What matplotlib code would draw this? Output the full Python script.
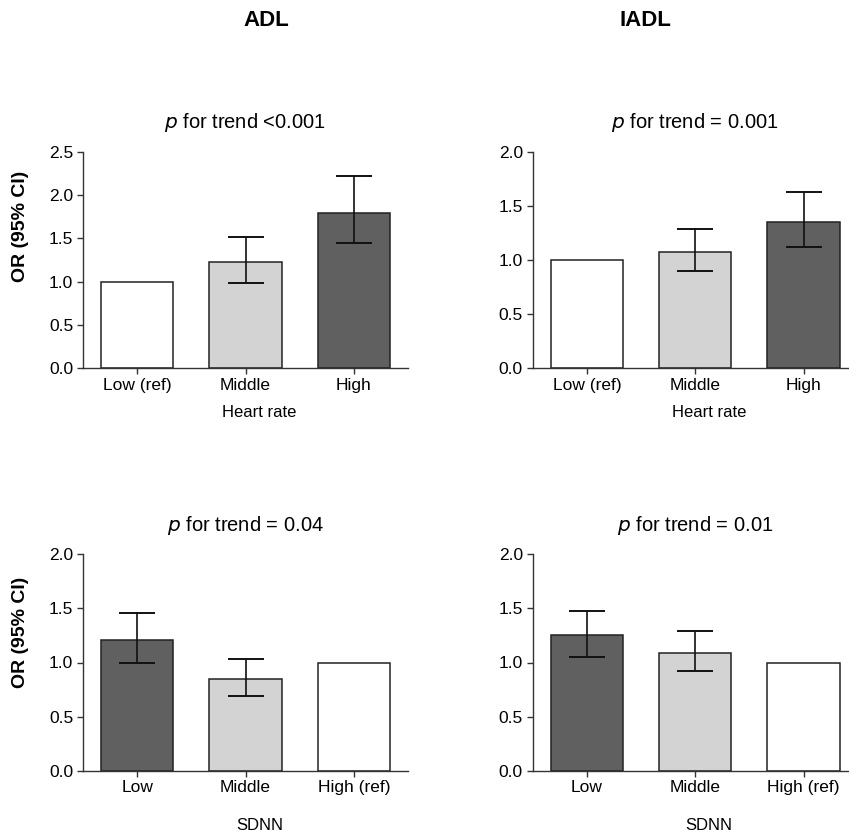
import numpy as np
import matplotlib
matplotlib.use('Agg')
import matplotlib.pyplot as plt

plt.rcParams['font.family'] = ['Liberation Sans', 'DejaVu Sans']

# odds ratios
hr_labels = ['Low (ref)', 'Middle', 'High']
sdnn_labels = ['Low', 'Middle', 'High (ref)']

adl_hr = [1.00, 1.23, 1.79]
adl_hr_lo = [1.00, 0.99, 1.45]
adl_hr_hi = [1.00, 1.52, 2.22]

iadl_hr = [1.00, 1.07, 1.35]
iadl_hr_lo = [1.00, 0.90, 1.12]
iadl_hr_hi = [1.00, 1.29, 1.63]

adl_sdnn = [1.21, 0.85, 1.00]
adl_sdnn_lo = [1.00, 0.69, 1.00]
adl_sdnn_hi = [1.46, 1.03, 1.00]

iadl_sdnn = [1.25, 1.09, 1.00]
iadl_sdnn_lo = [1.05, 0.92, 1.00]
iadl_sdnn_hi = [1.48, 1.29, 1.00]

hr_colors = ['white', '#d3d3d3', '#606060']
sdnn_colors = ['#606060', '#d3d3d3', 'white']

W, H = 849, 836
fig = plt.figure(figsize=(W / 100, H / 100), dpi=100)

def make_ax(left_px, top_px, bottom_px, width_px=325):
    return fig.add_axes([left_px / W, 1 - bottom_px / H, width_px / W, (bottom_px - top_px) / H])

def panel(ax, vals, lo, hi, colors, labels, title, ymax, xlabel, xlab_y):
    x = np.arange(len(vals))
    ax.bar(x, vals, width=0.67, color=colors, edgecolor='#222222', linewidth=1.1, zorder=2)
    err = [np.array(vals) - np.array(lo), np.array(hi) - np.array(vals)]
    keep = [i for i in range(len(vals)) if hi[i] != lo[i]]
    ax.errorbar(x[keep], np.array(vals)[keep],
                yerr=[err[0][keep], err[1][keep]],
                fmt='none', ecolor='#111111', elinewidth=1.2, capsize=13, capthick=1.4, zorder=3)
    ax.set_xlim(-0.5, 2.5)
    ax.set_ylim(0, ymax)
    ax.set_yticks(np.arange(0, ymax + 0.01, 0.5))
    ax.set_yticklabels(['%.1f' % v for v in np.arange(0, ymax + 0.01, 0.5)])
    ax.set_xticks(x)
    ax.set_xticklabels(labels)
    for s in ['top', 'right']:
        ax.spines[s].set_visible(False)
    for s in ['left', 'bottom']:
        ax.spines[s].set_color('#333333')
        ax.spines[s].set_linewidth(1.0)
    ax.tick_params(axis='both', labelsize=12.5, length=4, width=1.0, color='#333333', pad=3)
    ax.set_title(r'$\it{p}$ for trend ' + title, fontsize=14.5, pad=17)
    ax.set_xlabel(xlabel, fontsize=12, va='center')
    ax.xaxis.set_label_coords(0.543, xlab_y)

ax1 = make_ax(83, 151.7, 368.3)
panel(ax1, adl_hr, adl_hr_lo, adl_hr_hi, hr_colors, hr_labels, '<0.001', 2.5, 'Heart rate', -0.206)

ax2 = make_ax(532.7, 151.7, 368.3)
panel(ax2, iadl_hr, iadl_hr_lo, iadl_hr_hi, hr_colors, hr_labels, '= 0.001', 2.0, 'Heart rate', -0.206)

ax3 = make_ax(83, 554.3, 770.7)
panel(ax3, adl_sdnn, adl_sdnn_lo, adl_sdnn_hi, sdnn_colors, sdnn_labels, '= 0.04', 2.0, 'SDNN', -0.2555)

ax4 = make_ax(532.7, 554.3, 770.7)
panel(ax4, iadl_sdnn, iadl_sdnn_lo, iadl_sdnn_hi, sdnn_colors, sdnn_labels, '= 0.01', 2.0, 'SDNN', -0.2555)

# column headers and y labels
fig.text(266 / W, 1 - 20.5 / H, 'ADL', fontsize=16, fontweight='bold', ha='center', va='center')
fig.text(645 / W, 1 - 20.5 / H, 'IADL', fontsize=16, fontweight='bold', ha='center', va='center')
fig.text(20.5 / W, 1 - 226 / H, 'OR (95% CI)', fontsize=14, fontweight='bold', rotation=90, ha='center', va='center')
fig.text(20.5 / W, 1 - 632.5 / H, 'OR (95% CI)', fontsize=14, fontweight='bold', rotation=90, ha='center', va='center')

fig.savefig('out.png', dpi=100)
